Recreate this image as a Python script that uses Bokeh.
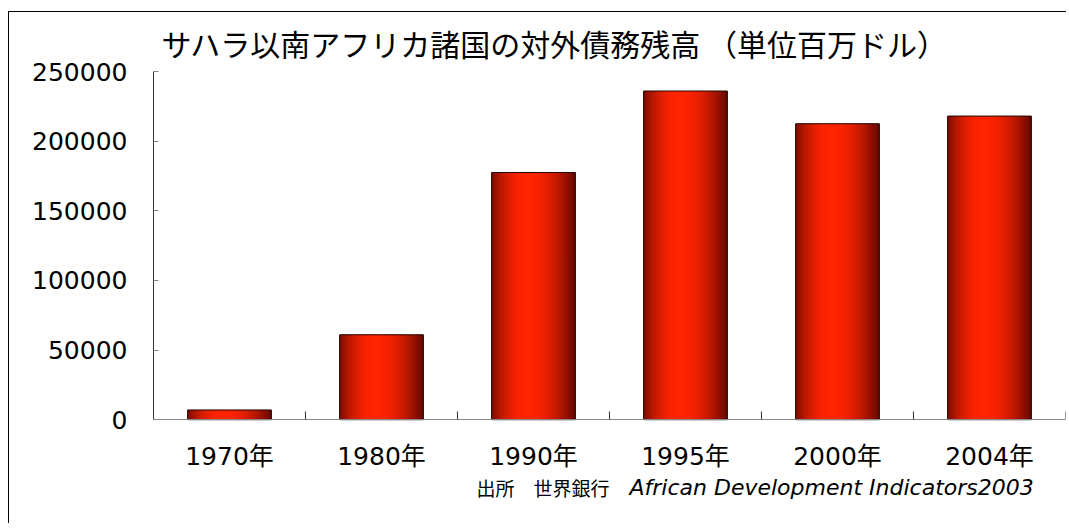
import numpy as np
from bokeh.plotting import figure
from bokeh.models import Range1d, FixedTicker, ColumnDataSource, Label, BasicTickFormatter
from bokeh.embed import file_html
from bokeh.resources import INLINE

# ---- data ----
categories = ["1970年", "1980年", "1990年", "1995年", "2000年", "2004年"]
values = [7000, 61000, 177500, 236000, 212500, 218000]
y_ticks = [0, 50000, 100000, 150000, 200000, 250000]
title_text = "サハラ以南アフリカ諸国の対外債務残高 （単位百万ドル）"
source_jp = "出所　世界銀行"
source_en = "African Development Indicators2003"

# ---- layout (pixels) ----
W, H = 1058, 512
top_b, left_b, right_b, bottom_b = 58, 144, 2, 9
frame_h = H - top_b - bottom_b          # whole frame, incl. area under the axis
plot_h = 349                            # height of the value area (0..max)
y_max = y_ticks[-1]
y_min = -y_max * (frame_h - plot_h) / plot_h

n_cat = len(categories)
p = figure(width=W, height=H,
           x_range=Range1d(0, n_cat), y_range=Range1d(y_min, y_max),
           output_backend="svg", toolbar_location=None,
           min_border_left=left_b, min_border_right=right_b,
           min_border_top=top_b, min_border_bottom=bottom_b)
p.styles = {"border-left": "1px solid #000", "border-top": "1px solid #000",
            "margin-top": "11px", "margin-left": "8px"}
p.background_fill_color = "white"
p.border_fill_color = "white"
p.outline_line_color = None
p.xgrid.visible = False
p.ygrid.visible = False

MIX = "DejaVu Sans, Noto Sans CJK JP"

# title
p.title.text = title_text
p.title.align = "left"
p.title.offset = 8
p.title.standoff = 13
p.title.text_font = "Noto Sans CJK JP"
p.title.text_font_size = "30px"
p.title.text_font_style = "normal"
p.title.text_color = "#000000"

# ---- bars with horizontal gradient (drawn as thin slices) ----
bw = 0.55
n = 60
peak = 0.42
dark_l = np.array([120, 12, 0])
dark_r = np.array([100, 8, 0])
bright = np.array([255, 36, 0])
xs, tops, cols = [], [], []
for i, v in enumerate(values):
    for k in range(n):
        t = (k + 0.5) / n
        if t < peak:
            f = 1 - ((peak - t) / peak) ** 2
            c = dark_l + (bright - dark_l) * f
        else:
            f = 1 - ((t - peak) / (1 - peak)) ** 2
            c = dark_r + (bright - dark_r) * f
        xs.append(i + 0.5 - bw / 2 + t * bw)
        tops.append(v)
        cols.append("#%02x%02x%02x" % tuple(int(round(x)) for x in c))
src = ColumnDataSource(dict(x=xs, top=tops, c=cols))
p.vbar(x="x", top="top", bottom=0, width=bw / n * 1.6, fill_color="c",
       line_color=None, source=src)

centers = [i + 0.5 for i in range(n_cat)]
p.vbar(x=centers, top=values, bottom=0, width=bw, fill_color=None,
       line_color="#220600", line_width=1)

# ---- axes ----
xa = p.xaxis[0]
xa.fixed_location = 0
xa.ticker = FixedTicker(ticks=centers, minor_ticks=list(range(n_cat + 1)))
xa.major_label_overrides = {c: lab for c, lab in zip(centers, categories)}
xa.major_tick_in = 0
xa.major_tick_out = 0
xa.minor_tick_in = 8
xa.minor_tick_out = 0
xa.minor_tick_line_color = "#333333"
xa.axis_line_color = "#888888"
xa.major_label_text_font = MIX
xa.major_label_text_font_size = "25px"
xa.major_label_text_color = "#000000"
xa.major_label_standoff = 22

ya = p.yaxis[0]
ya.bounds = (0, y_max)
ya.ticker = FixedTicker(ticks=y_ticks, minor_ticks=[])
ya.formatter = BasicTickFormatter(use_scientific=False)
ya.major_tick_in = 5
ya.major_tick_out = 0
ya.major_tick_line_color = "#888888"
ya.minor_tick_line_color = None
ya.axis_line_color = "#333333"
ya.major_label_text_font = MIX
ya.major_label_text_font_size = "25px"
ya.major_label_text_color = "#000000"
ya.major_label_standoff = 26

# ---- source note (frame-relative screen offsets) ----
p.add_layout(Label(x=323, y=28, x_units="screen", y_units="screen",
                   text=source_jp, text_font="Noto Sans CJK JP",
                   text_font_size="19px", text_color="#000000",
                   text_baseline="alphabetic"))
p.add_layout(Label(x=476, y=28, x_units="screen", y_units="screen",
                   text=source_en, text_font="DejaVu Sans",
                   text_font_style="italic",
                   text_font_size="22px", text_color="#000000",
                   text_baseline="alphabetic"))

open("out.html", "w").write(file_html(p, INLINE))
